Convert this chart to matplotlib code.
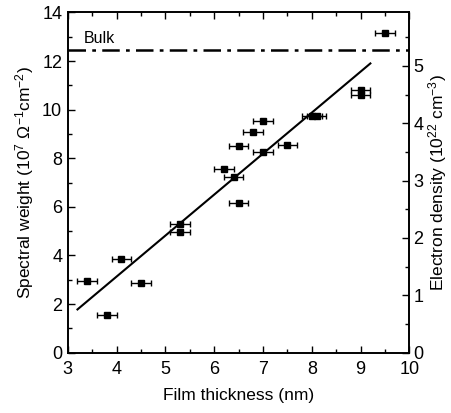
import numpy as np
import matplotlib.pyplot as plt
from matplotlib.ticker import MultipleLocator

plt.rcParams['font.family'] = ['Liberation Sans', 'DejaVu Sans']
plt.rcParams['mathtext.fontset'] = 'custom'
plt.rcParams['mathtext.rm'] = 'Liberation Sans'
plt.rcParams['mathtext.it'] = 'Liberation Sans:italic'
plt.rcParams['mathtext.bf'] = 'Liberation Sans:bold'

# film thickness (nm) and spectral weight (10^7 Ohm^-1 cm^-2)
thickness = [3.4, 3.8, 4.1, 4.5, 5.3, 5.3, 6.2, 6.4, 6.5, 6.5,
             6.8, 7.0, 7.0, 7.5, 8.0, 8.1, 9.0, 9.0, 9.5]
weight = [2.93, 1.55, 3.84, 2.88, 5.30, 4.98, 7.55, 7.24, 6.14, 8.50,
          9.08, 9.55, 8.25, 8.55, 9.72, 9.72, 10.82, 10.62, 13.15]
thickness_err = 0.2

# linear fit drawn between its two end points
fit_x = [3.2, 9.2]
fit_y = [1.78, 11.9]

bulk_level = 12.45
density_per_weight = 1 / 2.36   # 10^22 cm^-3 per unit of spectral weight

fig = plt.figure(figsize=(4.52, 4.13), dpi=100)
ax = fig.add_axes([0.1498, 0.146, 0.756, 0.824])

ax.errorbar(thickness, weight, xerr=thickness_err, fmt='s', color='black',
            markersize=5, elinewidth=1.0, capsize=2.5, capthick=1.0)
ax.plot(fit_x, fit_y, color='black', lw=1.5)
bulk, = ax.plot([3, 10], [bulk_level, bulk_level], color='black', lw=1.8)
bulk.set_dashes([7, 2.5, 1.5, 2.5])
ax.text(3.32, 12.75, 'Bulk', fontsize=11.5)

ax.set_xlim(3, 10)
ax.set_ylim(0, 14)
ax.xaxis.set_major_locator(MultipleLocator(1))
ax.xaxis.set_minor_locator(MultipleLocator(0.5))
ax.yaxis.set_major_locator(MultipleLocator(2))
ax.yaxis.set_minor_locator(MultipleLocator(1))
ax.tick_params(which='both', direction='in', top=True, labelsize=13, width=1.0)
ax.tick_params(which='major', length=5)
ax.tick_params(which='minor', length=3)
ax.tick_params(axis='x', pad=6)
ax.tick_params(axis='y', right=False, pad=4)

ax.set_xlabel('Film thickness (nm)', fontsize=12.5, labelpad=7)
ax.set_ylabel('Spectral weight (10$^{7}$ Ω$^{-1}$cm$^{-2}$)', fontsize=12.5,
              labelpad=4)

ax2 = ax.twinx()
ax2.set_ylim(0, 14 * density_per_weight)
ax2.yaxis.set_major_locator(MultipleLocator(1))
ax2.yaxis.set_minor_locator(MultipleLocator(0.5))
ax2.tick_params(which='both', direction='in', labelsize=13, width=1.0, pad=3)
ax2.tick_params(which='major', length=5)
ax2.tick_params(which='minor', length=3)
ax2.set_ylabel('Electron density (10$^{22}$ cm$^{-3}$)', fontsize=12.5,
               labelpad=2)

for a in (ax, ax2):
    for s in a.spines.values():
        s.set_linewidth(1.2)

fig.savefig('out.png', dpi=100)
